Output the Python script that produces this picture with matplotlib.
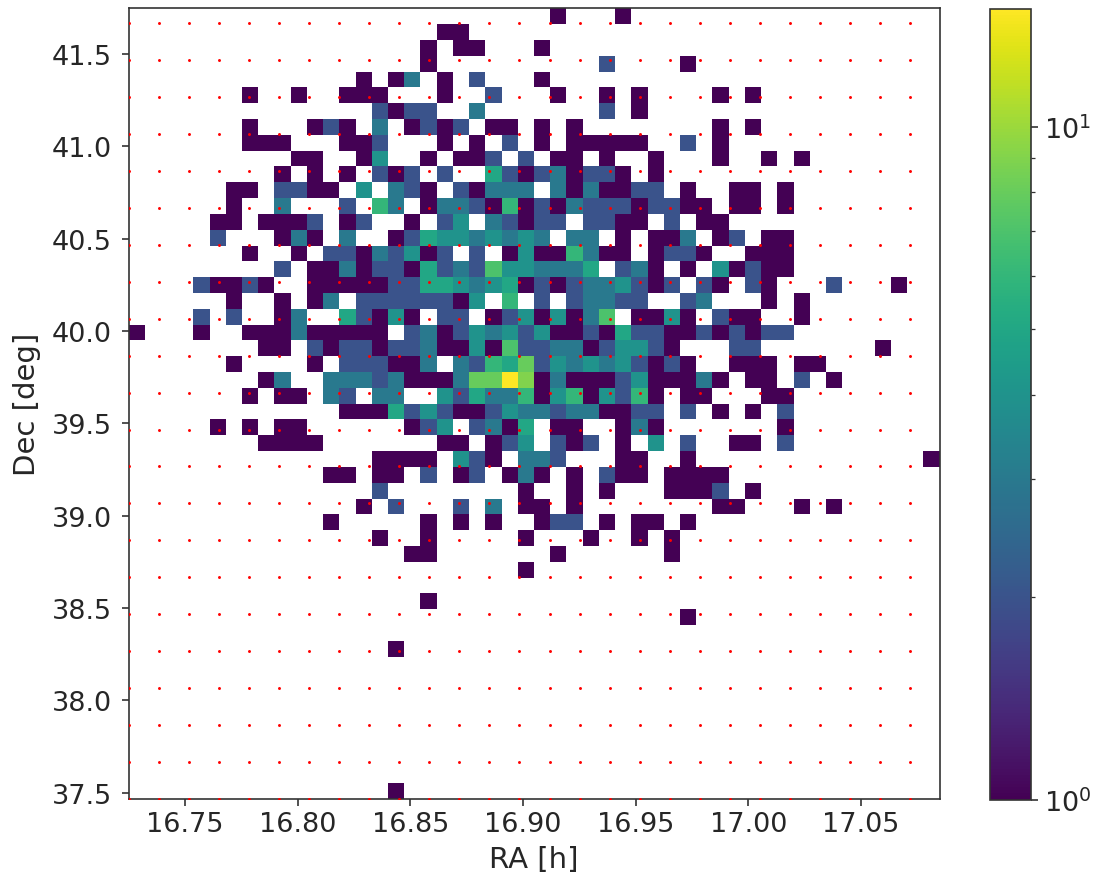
import numpy as np
import matplotlib
matplotlib.use('Agg')
import matplotlib.pyplot as plt
from matplotlib.colors import LogNorm

# histogram range and bins
ra_range = [16.7250, 17.0848]
dec_range = [37.4667, 41.7476]
n_bins = 50

# pointing grid, 0.2 deg spacing
ra_grid = [16.7251, 16.7384, 16.7518, 16.7651, 16.7784, 16.7918, 16.8051, 16.8184, 16.8318,
           16.8451, 16.8584, 16.8718, 16.8851, 16.8984, 16.9118, 16.9251, 16.9384, 16.9518,
           16.9651, 16.9784, 16.9918, 17.0051, 17.0184, 17.0318, 17.0451, 17.0584, 17.0718]
dec_grid = [37.467, 37.667, 37.867, 38.067, 38.267, 38.467, 38.667, 38.867, 39.067, 39.267, 39.467,
            39.667, 39.867, 40.067, 40.267, 40.467, 40.667, 40.867, 41.067, 41.267, 41.467, 41.667]

# counts per row from the top, {ra bin: count}
rows = [
    {26: 1, 30: 1},
    {19: 1, 20: 1},
    {18: 1, 20: 1, 21: 1, 25: 1},
    {18: 1, 29: 2, 34: 1},
    {14: 1, 16: 1, 17: 3, 19: 1, 21: 2, 25: 1},
    {7: 1, 10: 1, 13: 1, 14: 1, 15: 1, 19: 1, 22: 2, 26: 1, 29: 1, 31: 1, 36: 1, 38: 1},
    {15: 2, 16: 1, 17: 2, 18: 2, 21: 3, 29: 2, 31: 1},
    {7: 1, 11: 1, 12: 2, 13: 1, 15: 3, 17: 1, 18: 2, 19: 1, 20: 2, 22: 1, 23: 1, 25: 1, 27: 1, 36: 1, 38: 1},
    {7: 1, 8: 1, 9: 1, 13: 1, 14: 1, 15: 2, 19: 1, 21: 1, 23: 2, 25: 1, 27: 1, 28: 1, 29: 1, 30: 1, 31: 1,
     34: 2, 36: 1},
    {10: 1, 11: 1, 14: 1, 15: 4, 18: 1, 20: 1, 21: 1, 22: 2, 24: 2, 26: 1, 27: 1, 29: 1, 32: 1, 36: 1, 39: 1,
     41: 1},
    {9: 1, 11: 1, 13: 1, 15: 2, 16: 1, 17: 2, 19: 2, 22: 5, 23: 2, 24: 1, 25: 2, 26: 3, 27: 1, 28: 2, 29: 2,
     30: 1, 32: 1},
    {6: 1, 7: 1, 9: 2, 10: 2, 11: 1, 12: 1, 14: 4, 16: 3, 17: 2, 18: 1, 20: 2, 21: 1, 22: 3, 23: 3, 24: 3,
     26: 3, 27: 1, 28: 3, 29: 1, 30: 1, 31: 2, 32: 2, 34: 1, 37: 1, 38: 1, 40: 1},
    {6: 1, 9: 3, 13: 2, 15: 6, 16: 3, 18: 1, 19: 3, 20: 3, 21: 2, 22: 1, 23: 6, 24: 1, 25: 2, 26: 1, 27: 3,
     28: 2, 29: 2, 30: 2, 31: 1, 32: 2, 33: 2, 34: 1, 35: 1, 37: 1, 38: 1, 40: 1},
    {5: 1, 6: 1, 8: 1, 9: 1, 10: 1, 11: 2, 13: 1, 14: 2, 17: 1, 19: 2, 20: 4, 22: 3, 23: 2, 24: 1, 25: 2,
     26: 2, 28: 2, 29: 2, 30: 1, 31: 1, 33: 2, 35: 1, 36: 1},
    {5: 2, 9: 1, 10: 3, 11: 1, 13: 3, 16: 1, 17: 2, 18: 5, 19: 4, 20: 4, 21: 3, 22: 4, 23: 3, 24: 4, 25: 3,
     27: 3, 28: 3, 30: 1, 32: 1, 33: 1, 34: 3, 36: 1, 37: 2, 39: 1, 40: 1},
    {7: 1, 10: 1, 12: 2, 13: 2, 14: 1, 15: 3, 16: 2, 17: 4, 18: 1, 19: 2, 21: 2, 23: 1, 24: 4, 25: 1, 26: 1,
     27: 6, 28: 3, 29: 1, 30: 1, 32: 1, 33: 2, 34: 2, 35: 1, 38: 1, 39: 1, 40: 1},
    {9: 2, 11: 1, 12: 1, 13: 3, 14: 1, 15: 2, 16: 2, 17: 1, 18: 5, 19: 2, 20: 3, 21: 2, 22: 7, 23: 4, 24: 4,
     25: 3, 26: 3, 27: 3, 28: 5, 30: 2, 31: 3, 32: 1, 34: 1, 36: 4, 37: 1, 38: 2, 39: 1, 40: 1},
    {4: 2, 5: 1, 6: 1, 7: 2, 8: 1, 11: 1, 12: 1, 13: 1, 14: 1, 15: 1, 16: 2, 17: 2, 18: 5, 19: 5, 20: 4, 21: 3,
     22: 4, 23: 5, 24: 1, 25: 2, 26: 1, 27: 2, 28: 3, 29: 3, 30: 4, 31: 2, 32: 1, 33: 2, 35: 2, 36: 1, 38: 2,
     39: 1, 43: 2, 47: 1},
    {6: 1, 9: 1, 11: 1, 12: 3, 14: 2, 15: 2, 16: 2, 17: 2, 18: 2, 19: 2, 20: 1, 21: 4, 23: 6, 25: 2, 27: 2,
     28: 3, 29: 3, 30: 2, 31: 2, 34: 2, 35: 3, 39: 1, 41: 1},
    {4: 2, 6: 2, 9: 1, 10: 3, 13: 5, 14: 2, 15: 1, 16: 4, 17: 1, 19: 2, 20: 2, 22: 1, 23: 2, 24: 4, 25: 1,
     26: 4, 27: 1, 28: 3, 29: 7, 31: 1, 32: 1, 33: 4, 34: 1, 36: 2, 37: 1, 38: 1, 41: 1},
    {0: 1, 4: 1, 7: 1, 8: 1, 9: 1, 10: 3, 11: 1, 12: 1, 13: 1, 14: 1, 15: 1, 17: 2, 18: 3, 19: 1, 20: 2, 21: 4,
     22: 3, 23: 4, 24: 2, 25: 4, 26: 1, 27: 1, 28: 2, 29: 1, 30: 5, 31: 2, 32: 2, 33: 1, 34: 1, 35: 2, 36: 1,
     37: 2, 38: 1, 39: 2, 40: 2},
    {8: 1, 9: 1, 11: 2, 12: 1, 13: 2, 14: 2, 15: 1, 16: 2, 17: 2, 18: 3, 19: 1, 20: 1, 21: 4, 22: 1, 23: 7,
     24: 2, 25: 2, 26: 3, 27: 3, 28: 1, 29: 2, 30: 4, 31: 4, 32: 2, 33: 1, 37: 2, 38: 2, 46: 1},
    {6: 1, 11: 1, 13: 2, 14: 2, 15: 2, 16: 1, 17: 1, 18: 3, 20: 3, 21: 2, 22: 6, 23: 5, 24: 8, 25: 2, 26: 4,
     27: 3, 28: 4, 29: 3, 30: 4, 31: 2, 32: 1, 33: 2, 34: 1, 37: 1, 38: 1, 39: 1, 41: 1, 42: 1},
    {8: 1, 9: 3, 12: 3, 13: 3, 14: 3, 15: 2, 16: 3, 17: 1, 18: 1, 19: 1, 20: 3, 21: 8, 22: 8, 23: 15, 24: 9,
     25: 1, 26: 3, 27: 1, 28: 1, 29: 1, 30: 2, 31: 4, 32: 1, 33: 1, 34: 1, 35: 3, 36: 1, 38: 1, 39: 1, 41: 2,
     43: 1},
    {7: 1, 9: 1, 10: 1, 12: 3, 13: 2, 15: 3, 16: 3, 19: 4, 20: 2, 21: 5, 22: 3, 23: 3, 24: 6, 25: 1, 26: 4,
     27: 6, 28: 1, 29: 4, 30: 2, 31: 6, 32: 1, 34: 1, 35: 1, 39: 1, 40: 1},
    {13: 1, 14: 1, 15: 1, 16: 5, 17: 2, 18: 4, 19: 2, 20: 1, 21: 1, 22: 2, 23: 4, 24: 3, 25: 3, 26: 2, 27: 3,
     28: 3, 29: 1, 30: 1, 31: 2, 32: 2, 34: 2, 36: 1, 38: 1, 40: 2},
    {5: 1, 7: 1, 9: 1, 10: 1, 17: 1, 18: 2, 19: 4, 21: 2, 22: 3, 23: 1, 24: 5, 26: 1, 27: 1, 30: 1, 31: 3,
     32: 1, 40: 1},
    {8: 1, 9: 1, 10: 1, 11: 1, 19: 1, 20: 1, 22: 1, 23: 2, 24: 4, 26: 2, 27: 1, 28: 2, 30: 1, 32: 4, 34: 2,
     37: 1, 38: 1, 40: 2},
    {15: 1, 16: 1, 17: 1, 18: 1, 20: 4, 21: 2, 22: 1, 24: 3, 25: 3, 26: 2, 30: 1, 31: 1, 34: 1, 49: 1},
    {12: 1, 13: 1, 15: 1, 16: 1, 18: 2, 20: 1, 21: 2, 23: 1, 24: 3, 25: 1, 27: 1, 29: 2, 30: 1, 31: 1, 33: 1,
     34: 1, 35: 1, 36: 1},
    {15: 2, 24: 1, 27: 1, 29: 1, 33: 1, 34: 1, 35: 1, 36: 2, 38: 1},
    {14: 1, 16: 2, 20: 2, 22: 3, 24: 1, 25: 1, 27: 1, 36: 1, 37: 1, 41: 1, 43: 1},
    {12: 1, 18: 1, 20: 1, 22: 1, 25: 1, 26: 2, 27: 2, 29: 1, 31: 1, 32: 1, 34: 1},
    {15: 1, 18: 1, 24: 1, 28: 1, 31: 1, 33: 1},
    {17: 1, 18: 1, 26: 1, 33: 1},
    {24: 1},
    {},
    {18: 1},
    {34: 1},
    {},
    {16: 1},
    {}, {}, {}, {}, {}, {}, {}, {},
    {16: 1},
]

counts = np.full((n_bins, n_bins), np.nan)
for r, row in enumerate(rows):
    for c, n in row.items():
        counts[n_bins - 1 - r, c] = n

ra_edges = np.linspace(ra_range[0], ra_range[1], n_bins + 1)
dec_edges = np.linspace(dec_range[0], dec_range[1], n_bins + 1)

plt.rcParams['text.color'] = '#262626'
plt.rcParams['axes.labelcolor'] = '#262626'
plt.rcParams['axes.edgecolor'] = '#333333'
plt.rcParams['xtick.color'] = '#333333'
plt.rcParams['ytick.color'] = '#333333'
plt.rcParams['xtick.labelcolor'] = '#262626'
plt.rcParams['ytick.labelcolor'] = '#262626'

fig = plt.figure(figsize=(1101 / 150, 880 / 150), dpi=150)
ax = fig.add_axes([128.5 / 1101, 1 - 800 / 880, 811 / 1101, 790.7 / 880])
cax = fig.add_axes([990 / 1101, 1 - 800.5 / 880, 41 / 1101, 791 / 880])

mesh = ax.pcolormesh(ra_edges, dec_edges, counts, cmap='viridis', norm=LogNorm(vmin=1, vmax=15))
ra_pts, dec_pts = np.meshgrid(ra_grid, dec_grid)
ax.scatter(ra_pts.ravel(), dec_pts.ravel(), s=2, c='red', marker='o', linewidths=0, zorder=3)

ax.set_xlim(ra_range)
ax.set_ylim(dec_range)
ax.set_xticks([16.75, 16.80, 16.85, 16.90, 16.95, 17.00, 17.05])
ax.set_xticklabels(['16.75', '16.80', '16.85', '16.90', '16.95', '17.00', '17.05'])
ax.set_yticks([37.5, 38.0, 38.5, 39.0, 39.5, 40.0, 40.5, 41.0, 41.5])
ax.tick_params(axis='x', labelsize=13, pad=2.5)
ax.tick_params(axis='y', labelsize=13, pad=4.5)
ax.set_xlabel('RA [h]', fontsize=14, labelpad=3.5)
ax.set_ylabel('Dec [deg]', fontsize=14, labelpad=5)

cb = fig.colorbar(mesh, cax=cax)
cb.ax.tick_params(labelsize=13, pad=2.5)

fig.savefig('out.png', dpi=150)
